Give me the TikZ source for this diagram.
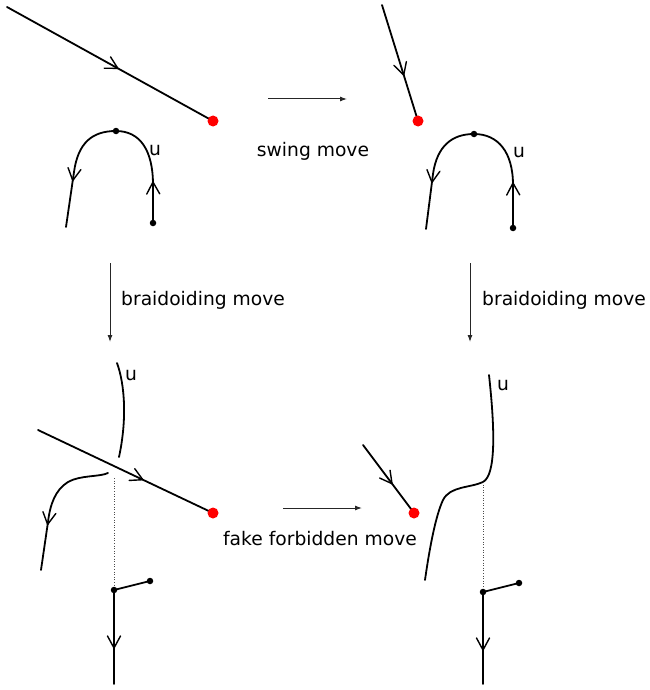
\documentclass[tikz,border=0pt]{standalone}
\usepackage{fontspec}
\setmainfont{DejaVu Sans}
\usetikzlibrary{arrows.meta,decorations.markings}
\tikzset{
  strand/.style={line width=1.8pt, line cap=round, line join=round},
  mk/.style={postaction={decorate,decoration={markings,
      mark=at position #1 with {\draw[line width=1.4pt,line cap=round,line join=round,solid] (-12pt,-6.5pt) -- (0pt,0pt) -- (-12pt,6.5pt);}}}},
  reddot/.style={circle, fill=red, draw=none, inner sep=0pt, minimum size=11pt},
  bdot/.style={circle, fill=black, draw=none, inner sep=0pt, minimum size=6.5pt},
  move/.style={line width=1pt, black!85, -{Latex[length=7pt,width=5pt]}},
  lbl/.style={inner sep=0pt, font=\fontsize{18.7}{22}\selectfont},
  dotline/.style={line width=0.9pt, black!70, dash pattern=on 1pt off 1.6pt},
}
\begin{document}
\begin{tikzpicture}[x=1pt,y=-1pt]
\useasboundingbox (0,0) rectangle (649,690);

% ---------- top left ----------
\coordinate (a1) at (7,7);
\coordinate (r1) at (213,121);
\coordinate (d1) at (153,223);
\coordinate (t1) at (116,131);
\coordinate (e1) at (66,227);
\draw[strand, mk=126.7pt] (a1) -- (r1);
\draw[strand, mk=41pt, mk=-47pt] (d1) -- (153,185)
  .. controls (153,150) and (140,131) .. (t1)
  .. controls (92,131) and (78,143) .. (74,172) -- (e1);
\node[reddot] (R1) at (r1) {};
\node[bdot] (D1) at (d1) {};
\node[bdot] (T1) at (t1) {};
\node[lbl, anchor=base] (u1) at (155,155) {u};

% swing move
\coordinate (s1) at (268,99);
\coordinate (s2) at (347,99);
\draw[move] (s1) -- (s2);
\node[lbl, anchor=base] (sw) at (313,156) {swing move};

% ---------- top right ----------
\coordinate (a2) at (382,5);
\coordinate (r2) at (418,121);
\coordinate (d2) at (513,228);
\coordinate (t2) at (474,134);
\coordinate (e2) at (426,229);
\draw[strand, mk=73.3pt] (a2) -- (r2);
\draw[strand, mk=45pt, mk=-47pt] (d2) -- (513,185)
  .. controls (513,152) and (498,134) .. (t2)
  .. controls (452,134) and (437,146) .. (433,174) -- (e2);
\node[reddot] (R2) at (r2) {};
\node[bdot] (D2) at (d2) {};
\node[bdot] (T2) at (t2) {};
\node[lbl, anchor=base] (u2) at (519,157) {u};

% braidoiding moves
\coordinate (v1) at (110,263);
\coordinate (v2) at (110,342);
\draw[move] (v1) -- (v2);
\node[lbl, anchor=base west] (bm1) at (121,305) {braidoiding move};
\coordinate (v3) at (470,263);
\coordinate (v4) at (470,342);
\draw[move] (v3) -- (v4);
\node[lbl, anchor=base west] (bm2) at (482,305) {braidoiding move};

% ---------- bottom left ----------
\coordinate (b1) at (117,363);
\coordinate (b2) at (119,457);
\draw[strand] (b1) .. controls (125,385) and (127,420) .. (b2);
\node[lbl, anchor=base] (u3) at (131,380) {u};
\coordinate (a3) at (38,430);
\coordinate (r3) at (213,513);
\draw[strand, mk=116pt] (a3) -- (r3);
\node[reddot] (R3) at (r3) {};
\coordinate (c1) at (108,473);
\coordinate (c2) at (41,570);
\draw[strand, mk=-46pt] (c1) .. controls (100,477) and (80,475) .. (68,482)
  .. controls (55,490) and (50,505) .. (48,522) -- (c2);
\coordinate (p1) at (114,478);
\coordinate (q1) at (114,590);
\coordinate (q2) at (150,581);
\coordinate (f1) at (114,684);
\draw[dotline] (p1) -- (q1);
\draw[strand] (q1) -- (q2);
\draw[strand, mk=58pt] (q1) -- (f1);
\node[bdot] (Q1) at (q1) {};
\node[bdot] (Q2) at (q2) {};

% fake forbidden move
\coordinate (h1) at (283,508);
\coordinate (h2) at (362,508);
\draw[move] (h1) -- (h2);
\node[lbl, anchor=base] (ff) at (320,545) {fake forbidden move};

% ---------- bottom right ----------
\coordinate (a4) at (363,445);
\coordinate (r4) at (414,513);
\draw[strand, mk=48.4pt] (a4) -- (r4);
\node[reddot] (R4) at (r4) {};
\coordinate (g1) at (489,375);
\coordinate (g2) at (483,482);
\coordinate (g3) at (425,580);
\draw[strand] (g1) .. controls (495,430) and (496,475) .. (g2)
  .. controls (470,488) and (450,486) .. (443,500)
  .. controls (436,515) and (430,545) .. (g3);
\node[lbl, anchor=base] (u4) at (503,390) {u};
\coordinate (q3) at (483,592);
\coordinate (q4) at (519,583);
\coordinate (f2) at (483,684);
\draw[dotline] (g2) -- (q3);
\draw[strand] (q3) -- (q4);
\draw[strand, mk=58pt] (q3) -- (f2);
\node[bdot] (Q3) at (q3) {};
\node[bdot] (Q4) at (q4) {};
\end{tikzpicture}
\end{document}
